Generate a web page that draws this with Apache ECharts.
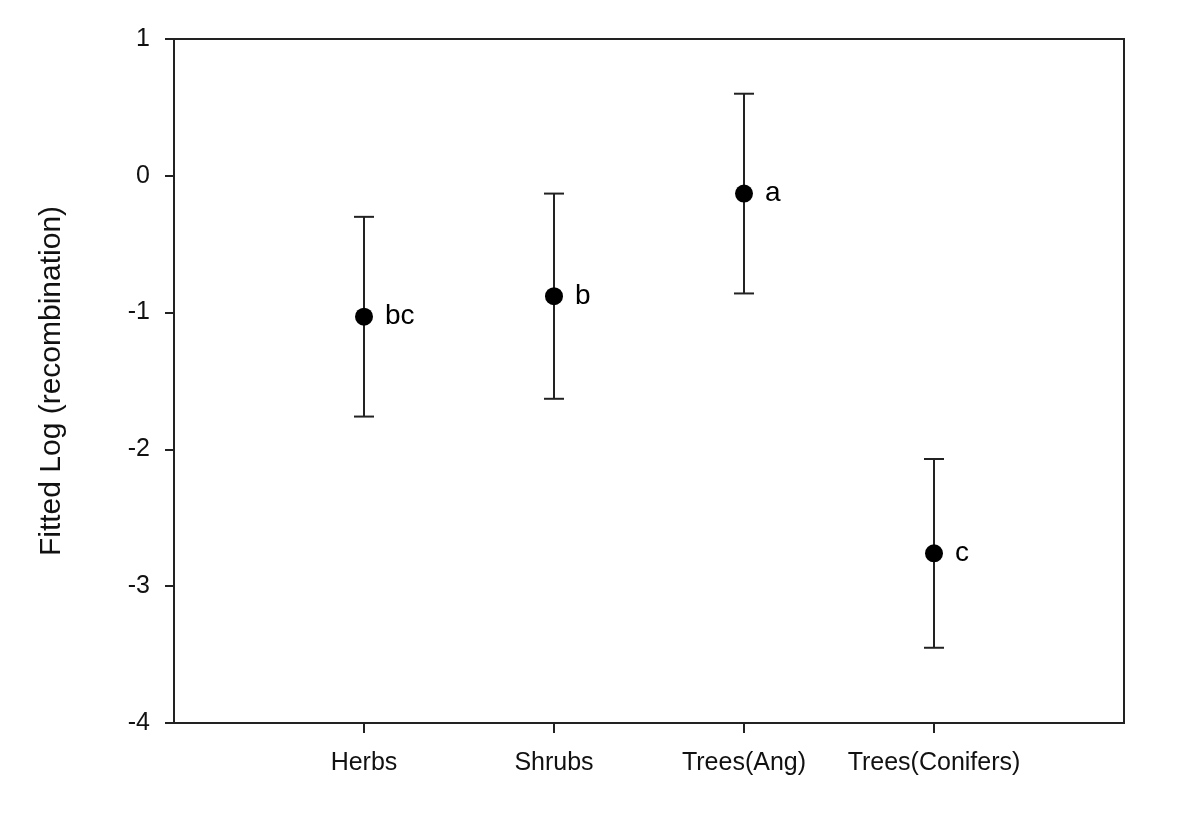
<!DOCTYPE html>
<html>
<head>
<meta charset="utf-8">
<script src="https://cdn.jsdelivr.net/npm/echarts@6/dist/echarts.min.js"></script>
<style>
  html, body { margin: 0; padding: 0; background: #fff; }
  #main { width: 1200px; height: 840px; }
</style>
</head>
<body>
<div id="main"></div>
<script>
// groups on the x axis (blank slots pad both ends)
const groups = ['', 'Herbs', 'Shrubs', 'Trees(Ang)', 'Trees(Conifers)', '']
const means = [-1.03, -0.88, -0.13, -2.76]
const lower = [-1.76, -1.63, -0.86, -3.45]
const upper = [-0.30, -0.13, 0.60, -2.07]
const letters = ['bc', 'b', 'a', 'c']
const yTicks = [-4, -3, -2, -1, 0, 1]

const ink = '#222'
const font = 'Liberation Sans, Arial, sans-serif'

const chart = echarts.init(document.getElementById('main'))

// points sit on slots 1..4
const pointData = means.map((v, i) => [i + 1, v])
const barData = means.map((v, i) => [i + 1, lower[i], upper[i]])

const option = {
  animation: false,
  grid: {
    left: 174, right: 76, top: 39, bottom: 117,
    show: true, borderColor: ink, borderWidth: 2, backgroundColor: 'transparent'
  },
  xAxis: {
    type: 'category',
    data: groups,
    boundaryGap: false,
    axisLine: { onZero: false, lineStyle: { color: ink, width: 2 } },
    axisTick: {
      length: 10,
      lineStyle: { color: ink, width: 2 },
      interval: (idx) => idx >= 1 && idx <= 4
    },
    axisLabel: {
      interval: 0, margin: 28, color: '#111', fontSize: 25, fontFamily: font
    },
    splitLine: { show: false }
  },
  yAxis: {
    type: 'value',
    min: yTicks[0], max: yTicks[yTicks.length - 1], interval: 1,
    name: 'Fitted Log (recombination)',
    nameLocation: 'middle',
    nameGap: 107,
    nameTextStyle: { color: '#111', fontSize: 30, fontFamily: font },
    axisLine: { show: true, lineStyle: { color: ink, width: 2 } },
    axisTick: { show: true, length: 9, lineStyle: { color: ink, width: 2 } },
    axisLabel: { margin: 24, color: '#111', fontSize: 25, fontFamily: font },
    splitLine: { show: false }
  },
  series: [
    {
      // error bars with caps
      type: 'custom',
      data: barData,
      z: 2,
      renderItem: (params, api) => {
        const x = api.value(0)
        const lo = api.coord([x, api.value(1)])
        const hi = api.coord([x, api.value(2)])
        const cap = 10
        const style = { stroke: ink, lineWidth: 2 }
        return {
          type: 'group',
          children: [
            { type: 'line', shape: { x1: lo[0], y1: lo[1], x2: hi[0], y2: hi[1] }, style },
            { type: 'line', shape: { x1: hi[0] - cap, y1: hi[1], x2: hi[0] + cap, y2: hi[1] }, style },
            { type: 'line', shape: { x1: lo[0] - cap, y1: lo[1], x2: lo[0] + cap, y2: lo[1] }, style }
          ]
        }
      }
    },
    {
      type: 'scatter',
      data: pointData,
      z: 3,
      symbol: 'circle',
      symbolSize: 18,
      itemStyle: { color: '#000', opacity: 1 },
      label: {
        show: true,
        position: 'right',
        distance: 12,
        color: '#000',
        fontSize: 28,
        fontFamily: font,
        formatter: (p) => letters[p.dataIndex]
      }
    }
  ]
}

chart.setOption(option)
</script>
</body>
</html>
